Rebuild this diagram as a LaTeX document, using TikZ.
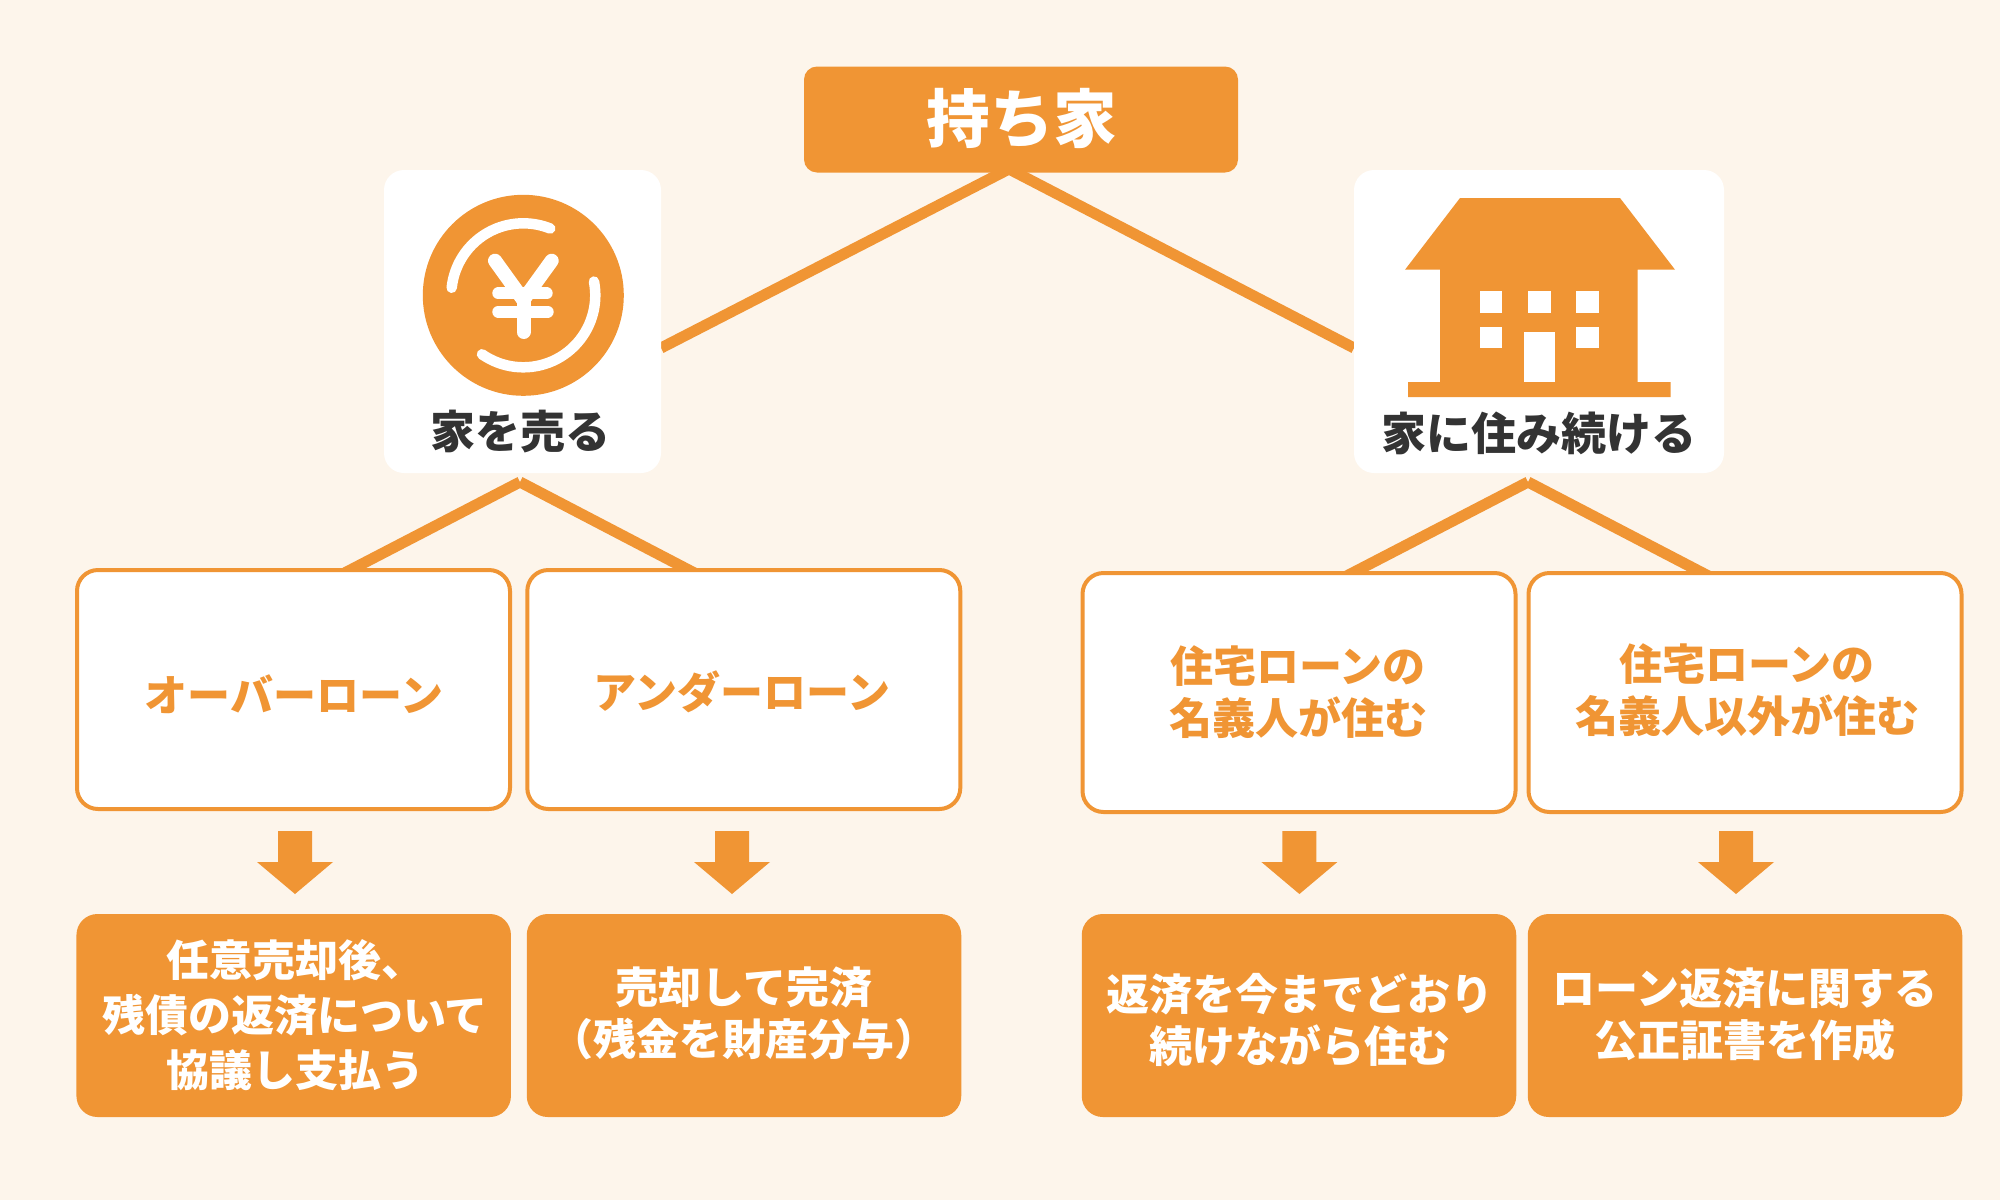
\documentclass[tikz,border=0pt]{standalone}
\usepackage{fontspec}
\setmainfont{Noto Sans CJK JP}
\definecolor{org}{HTML}{F09534}
\definecolor{bgc}{HTML}{FDF5EB}
\definecolor{ink}{HTML}{333333}
\newcommand{\blockarrow}[2]{%
  \fill[org] (#1-17,#2) -- (#1+17,#2) -- (#1+17,#2+31) -- (#1+38,#2+31) -- (#1,#2+63) -- (#1-38,#2+31) -- (#1-17,#2+31) -- cycle;}
\newcommand{\coinarc}[2]{%
  \draw[white,line width=10.5pt,line cap=round] plot[smooth,domain=#1:#2,samples=40,variable=\a] ({523.3+72*cos(\a)},{295.3-72*sin(\a)});}
\tikzset{
  base/.style={inner sep=0pt,outer sep=0pt,rounded corners=#1},
  topbox/.style={base=13pt,fill=org,minimum width=434pt,minimum height=106pt},
  card/.style={base=20pt,fill=white,minimum height=303pt},
  outline/.style={base=21pt,draw=org,line width=4pt,fill=white,minimum width=433pt,minimum height=239pt},
  solid box/.style={base=21pt,fill=org,minimum width=434.5pt,minimum height=203pt},
  conn/.style={draw=org,line width=11pt,line cap=butt},
  head/.style={inner sep=0pt,text=white,font=\fontsize{63.5}{72}\selectfont\bfseries},
  cardtext/.style={inner sep=0pt,text=ink,font=\fontsize{45}{52}\selectfont\bfseries},
  otext/.style={inner sep=0pt,text=org,align=center,font=\fontsize{43}{52}\selectfont\bfseries},
  wtext/.style={inner sep=0pt,text=white,align=center,font=\fontsize{43}{52}\selectfont\bfseries},
  wtextwide/.style={inner sep=0pt,text=white,align=center,font=\fontsize{43}{55}\selectfont\bfseries},
}
\begin{document}
\begin{tikzpicture}[x=1pt,y=-1pt]
\useasboundingbox (0,0) rectangle (2000,1200);
\fill[bgc] (0,0) rectangle (2000,1200);

% anchor points of the connectors
\coordinate (apexTop) at (1009,169);
\coordinate (sellEnd) at (661,348);
\coordinate (stayEnd) at (1354,348);
\coordinate (apexSell) at (520,482);
\coordinate (apexStay) at (1528,482);
\coordinate (overEnd) at (333,579);
\coordinate (underEnd) at (706,579);
\coordinate (ownerEnd) at (1335,582);
\coordinate (otherEnd) at (1720,582);

\draw[conn] (apexTop) -- (sellEnd);
\draw[conn] (apexTop) -- (stayEnd);
\draw[conn] (apexSell) -- (overEnd);
\draw[conn] (apexSell) -- (underEnd);
\draw[conn] (apexStay) -- (ownerEnd);
\draw[conn] (apexStay) -- (otherEnd);

% top
\node[topbox] (top) at (1021,119.5) {};
\node[head] (topText) at (1022,118) {持ち家};

% white cards
\node[card,minimum width=277pt] (sell) at (522.5,321.5) {};
\node[card,minimum width=370pt] (stay) at (1539,321.5) {};

% coin icon
\fill[org] (523.3,295.3) circle[radius=100.5pt];
\coinarc{174}{68}
\coinarc{11}{-125}
\begin{scope}[white,line cap=round]
  \draw[line width=14pt] (495,260.7) -- (523.3,300);
  \draw[line width=14pt] (551.7,260.7) -- (523.3,300);
  \draw[line width=14pt] (523.5,296) -- (523.5,332);
  \draw[line width=12pt] (498.3,293.3) -- (546.7,293.3);
  \draw[line width=12pt] (498.3,311.7) -- (547.7,311.7);
\end{scope}
\node[cardtext] (sellText) at (520,431.5) {家を売る};

% house icon
\fill[org] (1460,198) -- (1620,198) -- (1675,269.7) -- (1637.7,269.7) -- (1637.7,382)
  -- (1670.7,382) -- (1670.7,397) -- (1408,397) -- (1408,382) -- (1440,382) -- (1440,269.7)
  -- (1405,269.7) -- cycle;
\fill[white] (1480,291.3) rectangle (1502.3,312.7);
\fill[white] (1528,291.3) rectangle (1550.7,312.7);
\fill[white] (1576.3,291.3) rectangle (1599,312.7);
\fill[white] (1480,327) rectangle (1502.3,348.3);
\fill[white] (1576.3,327) rectangle (1599,348.3);
\fill[white] (1524,332.3) rectangle (1555,382);
\node[cardtext] (stayText) at (1539,433) {家に住み続ける};

% outlined boxes
\node[outline] (over) at (293.5,689.5) {};
\node[outline] (under) at (743.8,689.5) {};
\node[outline] (owner) at (1299,692.5) {};
\node[outline] (other) at (1745,692.5) {};
\node[otext] (overText) at (294,694.5) {オーバーローン};
\node[otext] (underText) at (742,691.5) {アンダーローン};
\node[otext] (ownerText) at (1298,692) {住宅ローンの\\名義人が住む};
\node[otext] (otherText) at (1747,690.5) {住宅ローンの\\名義人以外が住む};

% block arrows
\blockarrow{295}{831}
\blockarrow{732}{831}
\blockarrow{1299.4}{831}
\blockarrow{1736}{831}

% solid boxes
\node[solid box] (r1) at (293.7,1015.5) {};
\node[solid box] (r2) at (744,1015.5) {};
\node[solid box] (r3) at (1299,1015.5) {};
\node[solid box] (r4) at (1745,1015.5) {};
\node[wtextwide] (r1Text) at (295,1015) {任意売却後、\\残債の返済について\\協議し支払う};
\node[wtext] (r2Text) at (744,1013) {売却して完済\\（残金を財産分与）};
\node[wtext] (r3Text) at (1300,1020) {返済を今までどおり\\続けながら住む};
\node[wtext] (r4Text) at (1745,1014) {ローン返済に関する\\公正証書を作成};
\end{tikzpicture}
\end{document}
